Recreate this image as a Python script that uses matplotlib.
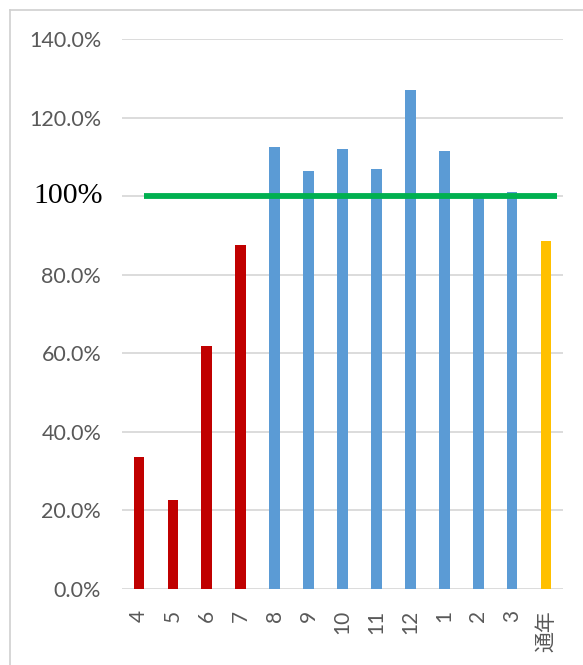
import matplotlib
matplotlib.use("Agg")
import matplotlib.pyplot as plt
from matplotlib.lines import Line2D

categories = ['4', '5', '6', '7', '8', '9', '10', '11', '12', '1', '2', '3', '通年']
values = [33.6, 22.7, 61.9, 87.6, 112.5, 106.4, 111.9, 106.8, 127.0, 111.5, 99.5, 101.0, 88.6]
bar_colors = ['#C00000'] * 4 + ['#5B9BD5'] * 8 + ['#FFC000']
y_ticks = [0, 20, 40, 60, 80, 100, 120, 140]
y_ticklabels = ['0.0%', '20.0%', '40.0%', '60.0%', '80.0%', '', '120.0%', '140.0%']
target = 100
target_label = '100%'

W, H = 583, 665
fig = plt.figure(figsize=(W / 100, H / 100), dpi=100)
fig.patch.set_facecolor('white')

# outer frame (top and left edges visible)
fx = 10 / W
fy = 1 - 10 / H
fig.add_artist(Line2D([fx, fx], [0, fy], transform=fig.transFigure, color='#d0d0d0', lw=1.2))
fig.add_artist(Line2D([fx, 1], [fy, fy], transform=fig.transFigure, color='#d0d0d0', lw=1.2))

left, right = 122 / W, 563 / W
bottom, top = 1 - 589 / H, 1 - 39 / H
ax = fig.add_axes([left, bottom, right - left, top - bottom])

x = list(range(len(categories)))
ax.bar(x, values, width=0.315, color=bar_colors, zorder=3)

ax.set_xlim(-0.5, len(categories) - 0.5)
ax.set_ylim(0, 140)
ax.set_yticks(y_ticks)
ax.set_yticklabels(y_ticklabels, fontsize=15.5, color='#595959', family=['Lato', 'DejaVu Sans'])
ax.set_xticks(x)
ax.set_xticklabels(categories, rotation=90, fontsize=15, color='#595959',
                   family=['Lato', 'Noto Sans CJK JP', 'DejaVu Sans'], va='top', ha='center')
ax.tick_params(axis='y', length=0, pad=15)
ax.tick_params(axis='x', length=0, pad=15)
ax.grid(axis='y', color='#d9d9d9', lw=1.3, zorder=0)
for s in ax.spines.values():
    s.set_visible(False)

# target line
ax.axhline(target, xmin=(144 - 122) / 441, xmax=(557 - 122) / 441, color='#00B050', lw=4.2, zorder=4,
           solid_capstyle='butt')
ax.text(-0.043, target, target_label, transform=ax.get_yaxis_transform(), ha='right', va='center',
        fontsize=21.5, color='black', family=['Liberation Serif', 'DejaVu Serif'])

fig.savefig('out.png', dpi=100)
